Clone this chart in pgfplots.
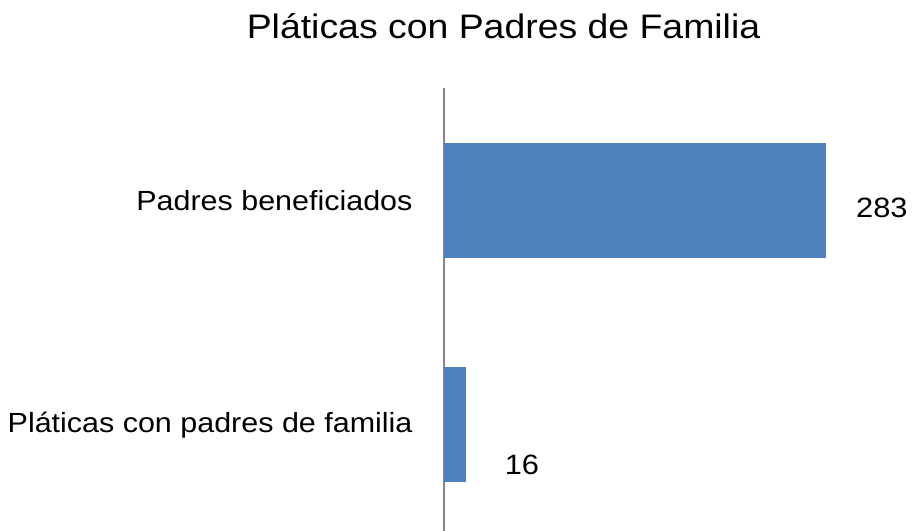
\documentclass[border=0pt]{standalone}
\usepackage{fontspec}
\setmainfont[FakeStretch=1.1]{Liberation Sans}
\usepackage{pgfplots}
\pgfplotsset{compat=1.18}
\definecolor{barblue}{HTML}{4F81BD}
\definecolor{axisgray}{HTML}{868686}
\begin{document}
\begin{tikzpicture}
\useasboundingbox (0,0) rectangle (917bp,531bp);
\node[font=\fontsize{34bp}{40bp}\selectfont] at (503.5bp,505bp) {Pláticas con Padres de Familia};
\begin{axis}[
  at={(444bp,0bp)}, anchor=south west,
  scale only axis, width=473bp, height=443bp,
  xmin=0, xmax=350.4, ymin=-0.472, ymax=1.5,
  xbar, bar width=115bp, bar shift=0pt,
  hide x axis,
  axis y line=left,
  axis line style={-, draw=axisgray, line width=2bp},
  ytick={0,1},
  yticklabels={Pláticas con padres de familia, Padres beneficiados},
  major tick length=0pt,
  yticklabel style={font=\fontsize{27.7bp}{32bp}\selectfont, anchor=east, xshift=-28bp},
  /pgf/number format/assume math mode=true,
  nodes near coords,
  every node near coord/.append style={font=\fontsize{28bp}{32bp}\selectfont, anchor=west, inner sep=0pt},
  clip=false,
]
\addplot[fill=barblue, draw=none,
  every node near coord/.append style={xshift=30bp, yshift=-8bp}]
  coordinates {(283,1)};
\addplot[fill=barblue, draw=none,
  every node near coord/.append style={xshift=39bp, yshift=-40bp}]
  coordinates {(16,0)};
\end{axis}
\end{tikzpicture}
\end{document}
